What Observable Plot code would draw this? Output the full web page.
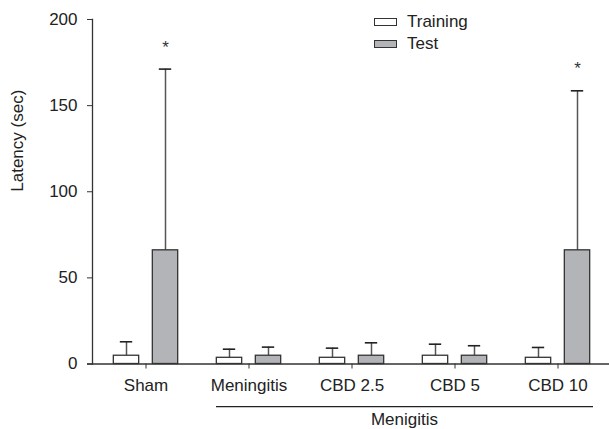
<!DOCTYPE html>
<html>
<head>
<meta charset="utf-8">
<script src="https://cdn.jsdelivr.net/npm/d3@7"></script>
<script src="https://cdn.jsdelivr.net/npm/@observablehq/plot@0.6"></script>
<style>
  body { margin: 0; background: #fff; font-family: "Liberation Sans", Arial, sans-serif; }
  #wrap { position: relative; width: 609px; height: 429px; overflow: hidden; }
  .leg { position: absolute; left: 374px; height: 20px; display: flex; align-items: center; font-size: 17px; color: #222; }
  .sw { width: 23px; height: 8px; box-sizing: border-box; border: 1.2px solid #333; margin-right: 10px; }
</style>
</head>
<body>
<div id="wrap"></div>
<script>
// ---- data ----
const groups = ["Sham", "Meningitis", "CBD 2.5", "CBD 5", "CBD 10"];
const seriesNames = ["Training", "Test"];
const trainingMean = [4.8, 3.6, 3.6, 4.8, 3.6];
const trainingSem  = [8.1, 5.0, 5.6, 6.7, 6.0];
const testMean     = [66, 4.8, 4.8, 4.8, 66];
const testSem      = [105.2, 5.0, 7.5, 5.8, 92.6];
const testSig      = ["*", "", "", "", "*"];
const yTicks = [0, 50, 100, 150, 200];
const yTitle = "Latency (sec)";
const bracketLabel = "Menigitis";
const bracketGroups = ["Meningitis", "CBD 10"];

const training = groups.map((g, i) => ({group: g, mean: trainingMean[i], top: trainingMean[i] + trainingSem[i]}));
const test = groups.map((g, i) => ({group: g, mean: testMean[i], top: testMean[i] + testSem[i], sig: testSig[i]}));

// ---- geometry/style ----
const step = 103.64, barW = 26, capW = 13, off = 19.5;
const barIns = (step - barW) / 2, capIns = (step - capW) / 2;
const ink = "#333";
const testFill = "#b3b4b8";

const plot = Plot.plot({
  width: 609,
  height: 429,
  marginLeft: 87,
  marginRight: 0,
  marginTop: 19,
  marginBottom: 65.5,
  style: {fontFamily: "Liberation Sans, Arial, sans-serif", fontSize: "17px", color: "#222", background: "white", overflow: "visible"},
  x: {domain: groups, range: [92.3, 92.3 + 5 * step], padding: 0},
  y: {domain: [0, 200]},
  marks: [
    Plot.ruleY([0], {stroke: ink, strokeWidth: 1.3}),
    Plot.frame({anchor: "left", dx: 5, stroke: ink, strokeWidth: 1.3}),
    // error stems
    Plot.ruleX(training, {x: "group", y1: "mean", y2: "top", dx: -off, stroke: "#555", strokeWidth: 1.5}),
    Plot.ruleX(test, {x: "group", y1: "mean", y2: "top", dx: off, stroke: "#555", strokeWidth: 1.5}),
    Plot.tickY(training, {x: "group", y: "top", dx: -off, insetLeft: capIns, insetRight: capIns, stroke: "#222", strokeWidth: 1.6}),
    Plot.tickY(test, {x: "group", y: "top", dx: off, insetLeft: capIns, insetRight: capIns, stroke: "#222", strokeWidth: 1.6}),
    // bars
    Plot.barY(training, {x: "group", y: "mean", dx: -off, insetLeft: barIns, insetRight: barIns, fill: "white", stroke: ink, strokeWidth: 1.3}),
    Plot.barY(test, {x: "group", y: "mean", dx: off, insetLeft: barIns, insetRight: barIns, fill: testFill, stroke: ink, strokeWidth: 1.3}),
    // significance
    Plot.text(test.filter(d => d.sig), {x: "group", y: "top", text: "sig", dx: off, dy: -22, fontSize: 17, fill: "#333"}),
    // axes
    Plot.axisX({tickSize: 5, tickPadding: 10, fontSize: 17, label: null, stroke: ink}),
    Plot.axisY({ticks: yTicks, tickSize: 5, tickPadding: 10, dx: 5, fontSize: 17, label: null, stroke: ink}),
    Plot.text([yTitle], {frameAnchor: "left", rotate: -90, dx: -70, fontSize: 17, fill: "#222"})
  ]
});

// bracket under the Meningitis groups
const xs = plot.scale("x"), ys = plot.scale("y");
const bw = xs.bandwidth;
const bx1 = xs.apply(bracketGroups[0]) + bw / 2 - off - barW / 2;
const bx2 = xs.apply(bracketGroups[1]) + bw / 2 + off + barW / 2 + 3;
const by = ys.apply(-25);
const svg = d3.select(plot);
svg.append("line").attr("x1", bx1).attr("x2", bx2).attr("y1", by).attr("y2", by)
  .attr("stroke", "#222").attr("stroke-width", 1.3);
svg.append("text").attr("x", (bx1 + bx2) / 2).attr("y", ys.apply(-35.5))
  .attr("text-anchor", "middle").attr("font-size", 17).attr("fill", "#222").text(bracketLabel);

const wrap = document.getElementById("wrap");
wrap.appendChild(plot);

// legend
const legTops = [12, 34];
seriesNames.forEach((name, i) => {
  const row = document.createElement("div");
  row.className = "leg";
  row.style.top = legTops[i] + "px";
  const sw = document.createElement("span");
  sw.className = "sw";
  sw.style.background = i === 0 ? "white" : testFill;
  row.appendChild(sw);
  row.appendChild(document.createTextNode(name));
  wrap.appendChild(row);
});
</script>
</body>
</html>
